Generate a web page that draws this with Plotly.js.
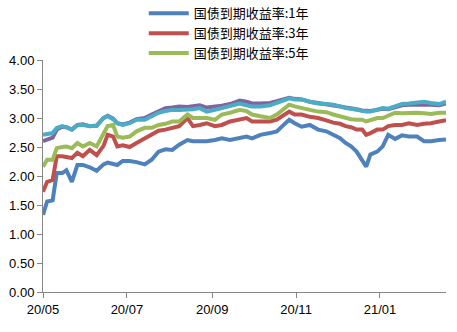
<!DOCTYPE html>
<html>
<head>
<meta charset="utf-8">
<script src="https://cdn.plot.ly/plotly-3.0.1.min.js"></script>
<style>html,body{margin:0;padding:0;background:#fff;}#chart{width:457px;height:332px;}</style>
</head>
<body>
<div id="chart"></div>
<script>
var dates = ["2020-05-01","2020-05-04","2020-05-08","2020-05-11","2020-05-15","2020-05-18","2020-05-22","2020-05-26","2020-05-30","2020-06-04","2020-06-09","2020-06-14","2020-06-17","2020-06-21","2020-06-24","2020-06-28","2020-07-03","2020-07-08","2020-07-14","2020-07-19","2020-07-24","2020-07-29","2020-08-03","2020-08-08","2020-08-14","2020-08-18","2020-08-23","2020-08-28","2020-09-03","2020-09-08","2020-09-14","2020-09-21","2020-09-26","2020-09-30","2020-10-06","2020-10-13","2020-10-18","2020-10-22","2020-10-27","2020-10-31","2020-11-05","2020-11-11","2020-11-17","2020-11-23","2020-11-28","2020-12-03","2020-12-07","2020-12-11","2020-12-15","2020-12-19","2020-12-22","2020-12-25","2020-12-30","2021-01-03","2021-01-07","2021-01-12","2021-01-17","2021-01-22","2021-01-28","2021-02-02","2021-02-07","2021-02-13","2021-02-18"];

var y1 = [1.33,1.56,1.58,2.05,2.05,2.10,1.90,2.19,2.19,2.15,2.09,2.20,2.23,2.20,2.19,2.26,2.26,2.24,2.20,2.28,2.42,2.46,2.45,2.54,2.62,2.60,2.60,2.60,2.62,2.65,2.62,2.65,2.68,2.65,2.71,2.74,2.77,2.86,2.97,2.91,2.85,2.88,2.80,2.77,2.71,2.65,2.57,2.51,2.42,2.28,2.16,2.37,2.42,2.51,2.71,2.64,2.70,2.68,2.68,2.60,2.60,2.62,2.63];

var y3 = [1.73,1.90,1.93,2.34,2.34,2.33,2.31,2.40,2.34,2.45,2.36,2.52,2.71,2.68,2.51,2.53,2.50,2.57,2.65,2.71,2.78,2.80,2.83,2.86,3.00,2.86,2.88,2.91,2.86,2.88,2.94,2.97,3.00,2.94,2.94,2.94,2.97,3.03,3.11,3.06,3.06,3.02,3.00,2.96,2.92,2.90,2.86,2.84,2.80,2.80,2.71,2.74,2.80,2.80,2.86,2.88,2.88,2.91,2.88,2.90,2.91,2.94,2.96];

var y5 = [2.16,2.28,2.28,2.48,2.50,2.51,2.48,2.57,2.51,2.57,2.51,2.71,2.86,2.88,2.68,2.66,2.68,2.77,2.83,2.83,2.88,2.90,2.94,2.94,3.06,3.00,3.00,3.00,2.97,3.06,3.09,3.14,3.12,3.06,3.03,3.00,3.06,3.14,3.23,3.20,3.18,3.14,3.11,3.10,3.06,3.03,3.00,2.98,2.97,2.97,2.94,2.96,3.00,3.00,3.04,3.09,3.08,3.09,3.09,3.08,3.07,3.09,3.09];

var y7 = [2.60,2.62,2.66,2.80,2.85,2.84,2.80,2.88,2.89,2.86,2.87,3.00,3.04,2.99,2.91,2.89,2.92,2.98,3.00,3.06,3.12,3.17,3.18,3.20,3.19,3.20,3.22,3.18,3.19,3.21,3.24,3.30,3.28,3.25,3.25,3.26,3.29,3.31,3.35,3.33,3.32,3.28,3.26,3.24,3.23,3.20,3.18,3.17,3.15,3.13,3.12,3.12,3.14,3.16,3.15,3.18,3.22,3.23,3.23,3.24,3.23,3.22,3.25];

var y10 = [2.71,2.72,2.74,2.83,2.86,2.84,2.80,2.88,2.88,2.86,2.86,3.00,3.03,2.98,2.91,2.88,2.91,2.97,2.97,3.03,3.09,3.12,3.14,3.14,3.14,3.15,3.17,3.11,3.14,3.17,3.20,3.25,3.22,3.20,3.20,3.22,3.26,3.29,3.34,3.32,3.32,3.28,3.25,3.24,3.23,3.20,3.17,3.16,3.14,3.12,3.11,3.11,3.14,3.17,3.16,3.20,3.24,3.25,3.26,3.28,3.26,3.24,3.28];

var names = ["国债到期收益率:1年","国债到期收益率:3年","国债到期收益率:5年","国债到期收益率:7年","国债到期收益率:10年"];
var colors = ["#4F81BD","#C0504D","#9BBB59","#8064A2","#4BACC6"];
var tickDates = ["2020-05-01","2020-07-01","2020-09-01","2020-11-01","2021-01-01"];
var tickLabels = ["20/05","20/07","20/09","20/11","21/01"];

var series = [y1,y3,y5,y7,y10];
var traces = series.map(function(s,i){
  return {x: dates, y: s, name: names[i], type: 'scatter', mode: 'lines',
    line: {color: colors[i], width: 4}, showlegend: i < 3};
});

var layout = {
  width: 457, height: 332,
  margin: {l: 43, r: 11, t: 60, b: 40, autoexpand: false},
  paper_bgcolor: '#fff', plot_bgcolor: '#fff',
  font: {family: 'Liberation Sans, Arial, sans-serif', size: 13, color: '#000'},
  showlegend: true,
  legend: {x: 0.25, y: 1.266, xanchor: 'left', yanchor: 'top', bgcolor: 'rgba(0,0,0,0)',
    itemwidth: 40,
    font: {family: 'Noto Sans CJK SC, sans-serif', size: 13, color: '#000'}, tracegroupgap: 0},
  xaxis: {type: 'date', range: ['2020-05-01','2021-02-18'], tickvals: tickDates, ticktext: tickLabels,
    showgrid: false, zeroline: false, showline: true, linecolor: '#868686', linewidth: 1,
    ticks: 'outside', ticklen: 5, tickcolor: '#868686', tickfont: {size: 13, color: '#000'}},
  yaxis: {range: [0, 4], dtick: 0.5, tick0: 0, tickformat: '.2f', showgrid: false, zeroline: false,
    showline: true, linecolor: '#868686', linewidth: 1, ticks: 'outside', ticklen: 5,
    tickcolor: '#868686', tickfont: {size: 13, color: '#000'}}
};

Plotly.newPlot('chart', traces, layout, {displayModeBar: false, staticPlot: true});
</script>
</body>
</html>
